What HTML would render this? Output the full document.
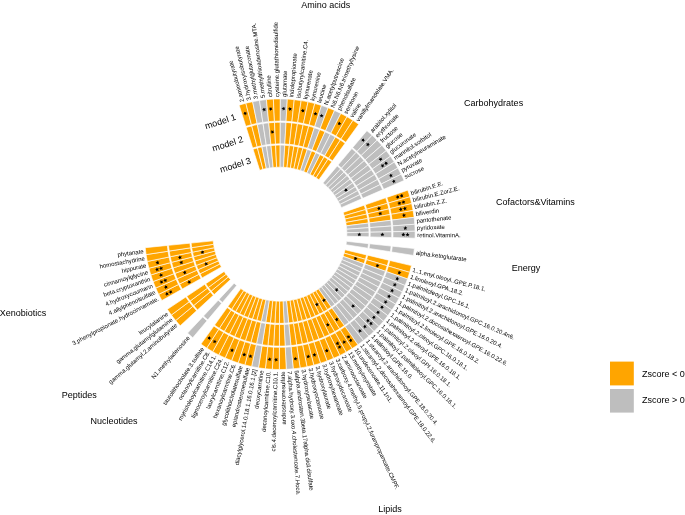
<!DOCTYPE html>
<html><head><meta charset="utf-8"><style>
html,body{margin:0;padding:0;background:#fff;}
svg{display:block;will-change:transform;}
text{font-family:"Liberation Sans",sans-serif;fill:#000;}
</style></head><body>
<svg width="685" height="515" viewBox="0 0 685 515">
<rect width="685" height="515" fill="#fff"/>
<g stroke="#fff" stroke-width="0.65">
<path d="M239.142,105.169A135.3,135.3 0 0 1 245.846,103.243L251.425,124.730A113.1,113.1 0 0 0 245.821,126.341Z" fill="#FFA500"/>
<path d="M246.182,127.485A111.9,111.9 0 0 1 251.727,125.892L257.143,146.750A90.35,90.35 0 0 0 252.666,148.036Z" fill="#FFA500"/>
<path d="M253.027,149.181A89.15,89.15 0 0 1 257.444,147.911L263.011,169.351A67.0,67.0 0 0 0 259.692,170.304Z" fill="#FFA500"/>
<path d="M245.846,103.243A135.3,135.3 0 0 1 252.640,101.664L257.104,123.411A113.1,113.1 0 0 0 251.425,124.730Z" fill="#FFA500"/>
<path d="M251.727,125.892A111.9,111.9 0 0 1 257.346,124.586L261.680,145.696A90.35,90.35 0 0 0 257.143,146.750Z" fill="#FFA500"/>
<path d="M257.444,147.911A89.15,89.15 0 0 1 261.921,146.871L266.375,168.569A67.0,67.0 0 0 0 263.011,169.351Z" fill="#FFA500"/>
<path d="M252.640,101.664A135.3,135.3 0 0 1 259.506,100.438L262.844,122.386A113.1,113.1 0 0 0 257.104,123.411Z" fill="#BEBEBE"/>
<path d="M257.346,124.586A111.9,111.9 0 0 1 263.024,123.572L266.265,144.877A90.35,90.35 0 0 0 261.680,145.696Z" fill="#BEBEBE"/>
<path d="M261.921,146.871A89.15,89.15 0 0 1 266.445,146.064L269.776,167.962A67.0,67.0 0 0 0 266.375,168.569Z" fill="#BEBEBE"/>
<path d="M259.506,100.438A135.3,135.3 0 0 1 266.426,99.568L268.629,121.658A113.1,113.1 0 0 0 262.844,122.386Z" fill="#BEBEBE"/>
<path d="M263.024,123.572A111.9,111.9 0 0 1 268.748,122.852L270.886,144.296A90.35,90.35 0 0 0 266.265,144.877Z" fill="#BEBEBE"/>
<path d="M266.445,146.064A89.15,89.15 0 0 1 271.005,145.490L273.203,167.531A67.0,67.0 0 0 0 269.776,167.962Z" fill="#BEBEBE"/>
<path d="M266.426,99.568A135.3,135.3 0 0 1 273.382,99.055L274.443,121.229A113.1,113.1 0 0 0 268.629,121.658Z" fill="#FFA500"/>
<path d="M268.748,122.852A111.9,111.9 0 0 1 274.501,122.428L275.531,143.953A90.35,90.35 0 0 0 270.886,144.296Z" fill="#FFA500"/>
<path d="M271.005,145.490A89.15,89.15 0 0 1 275.588,145.152L276.647,167.277A67.0,67.0 0 0 0 273.203,167.531Z" fill="#FFA500"/>
<path d="M273.382,99.055A135.3,135.3 0 0 1 280.355,98.901L280.272,121.101A113.1,113.1 0 0 0 274.443,121.229Z" fill="#FFA500"/>
<path d="M274.501,122.428A111.9,111.9 0 0 1 280.268,122.301L280.187,143.851A90.35,90.35 0 0 0 275.531,143.953Z" fill="#FFA500"/>
<path d="M275.588,145.152A89.15,89.15 0 0 1 280.183,145.051L280.100,167.200A67.0,67.0 0 0 0 276.647,167.277Z" fill="#FFA500"/>
<path d="M280.355,98.901A135.3,135.3 0 0 1 287.327,99.107L286.100,121.273A113.1,113.1 0 0 0 280.272,121.101Z" fill="#BEBEBE"/>
<path d="M280.268,122.301A111.9,111.9 0 0 1 286.034,122.471L284.843,143.988A90.35,90.35 0 0 0 280.187,143.851Z" fill="#BEBEBE"/>
<path d="M280.183,145.051A89.15,89.15 0 0 1 284.777,145.186L283.553,167.302A67.0,67.0 0 0 0 280.100,167.200Z" fill="#BEBEBE"/>
<path d="M287.327,99.107A135.3,135.3 0 0 1 294.279,99.672L291.912,121.745A113.1,113.1 0 0 0 286.100,121.273Z" fill="#FFA500"/>
<path d="M286.034,122.471A111.9,111.9 0 0 1 291.784,122.938L289.485,144.365A90.35,90.35 0 0 0 284.843,143.988Z" fill="#FFA500"/>
<path d="M284.777,145.186A89.15,89.15 0 0 1 289.357,145.558L286.995,167.582A67.0,67.0 0 0 0 283.553,167.302Z" fill="#FFA500"/>
<path d="M294.279,99.672A135.3,135.3 0 0 1 301.193,100.594L297.691,122.516A113.1,113.1 0 0 0 291.912,121.745Z" fill="#FFA500"/>
<path d="M291.784,122.938A111.9,111.9 0 0 1 297.502,123.701L294.102,144.981A90.35,90.35 0 0 0 289.485,144.365Z" fill="#FFA500"/>
<path d="M289.357,145.558A89.15,89.15 0 0 1 293.913,146.166L290.419,168.039A67.0,67.0 0 0 0 286.995,167.582Z" fill="#FFA500"/>
<path d="M301.193,100.594A135.3,135.3 0 0 1 308.050,101.871L303.423,123.584A113.1,113.1 0 0 0 297.691,122.516Z" fill="#FFA500"/>
<path d="M297.502,123.701A111.9,111.9 0 0 1 303.173,124.757L298.681,145.834A90.35,90.35 0 0 0 294.102,144.981Z" fill="#FFA500"/>
<path d="M293.913,146.166A89.15,89.15 0 0 1 298.431,147.008L293.814,168.671A67.0,67.0 0 0 0 290.419,168.039Z" fill="#FFA500"/>
<path d="M308.050,101.871A135.3,135.3 0 0 1 314.832,103.500L309.092,124.946A113.1,113.1 0 0 0 303.423,123.584Z" fill="#FFA500"/>
<path d="M303.173,124.757A111.9,111.9 0 0 1 308.782,126.105L303.210,146.922A90.35,90.35 0 0 0 298.681,145.834Z" fill="#FFA500"/>
<path d="M298.431,147.008A89.15,89.15 0 0 1 302.900,148.081L297.173,169.478A67.0,67.0 0 0 0 293.814,168.671Z" fill="#FFA500"/>
<path d="M314.832,103.500A135.3,135.3 0 0 1 321.521,105.477L314.683,126.598A113.1,113.1 0 0 0 309.092,124.946Z" fill="#FFA500"/>
<path d="M308.782,126.105A111.9,111.9 0 0 1 314.314,127.739L307.677,148.242A90.35,90.35 0 0 0 303.210,146.922Z" fill="#FFA500"/>
<path d="M302.900,148.081A89.15,89.15 0 0 1 307.307,149.384L300.485,170.457A67.0,67.0 0 0 0 297.173,169.478Z" fill="#FFA500"/>
<path d="M321.521,105.477A135.3,135.3 0 0 1 328.099,107.795L320.182,128.536A113.1,113.1 0 0 0 314.683,126.598Z" fill="#BEBEBE"/>
<path d="M314.314,127.739A111.9,111.9 0 0 1 319.754,129.657L312.069,149.790A90.35,90.35 0 0 0 307.677,148.242Z" fill="#BEBEBE"/>
<path d="M307.307,149.384A89.15,89.15 0 0 1 311.642,150.911L303.743,171.605A67.0,67.0 0 0 0 300.485,170.457Z" fill="#BEBEBE"/>
<path d="M328.099,107.795A135.3,135.3 0 0 1 334.549,110.450L325.574,130.755A113.1,113.1 0 0 0 320.182,128.536Z" fill="#FFA500"/>
<path d="M319.754,129.657A111.9,111.9 0 0 1 325.089,131.852L316.377,151.563A90.35,90.35 0 0 0 312.069,149.790Z" fill="#FFA500"/>
<path d="M311.642,150.911A89.15,89.15 0 0 1 315.892,152.660L306.937,172.919A67.0,67.0 0 0 0 303.743,171.605Z" fill="#FFA500"/>
<path d="M334.549,110.450A135.3,135.3 0 0 1 340.854,113.433L330.844,133.249A113.1,113.1 0 0 0 325.574,130.755Z" fill="#BEBEBE"/>
<path d="M325.089,131.852A111.9,111.9 0 0 1 330.303,134.320L320.587,153.555A90.35,90.35 0 0 0 316.377,151.563Z" fill="#BEBEBE"/>
<path d="M315.892,152.660A89.15,89.15 0 0 1 320.046,154.626L310.059,174.397A67.0,67.0 0 0 0 306.937,172.919Z" fill="#BEBEBE"/>
<path d="M340.854,113.433A135.3,135.3 0 0 1 346.996,116.737L335.979,136.011A113.1,113.1 0 0 0 330.844,133.249Z" fill="#FFA500"/>
<path d="M330.303,134.320A111.9,111.9 0 0 1 335.383,137.052L324.689,155.761A90.35,90.35 0 0 0 320.587,153.555Z" fill="#BEBEBE"/>
<path d="M320.046,154.626A89.15,89.15 0 0 1 324.093,156.803L313.101,176.033A67.0,67.0 0 0 0 310.059,174.397Z" fill="#FFA500"/>
<path d="M346.996,116.737A135.3,135.3 0 0 1 352.960,120.354L340.964,139.034A113.1,113.1 0 0 0 335.979,136.011Z" fill="#FFA500"/>
<path d="M335.383,137.052A111.9,111.9 0 0 1 340.316,140.043L328.671,158.176A90.35,90.35 0 0 0 324.689,155.761Z" fill="#FFA500"/>
<path d="M324.093,156.803A89.15,89.15 0 0 1 328.023,159.186L316.054,177.824A67.0,67.0 0 0 0 313.101,176.033Z" fill="#FFA500"/>
<path d="M352.960,120.354A135.3,135.3 0 0 1 358.730,124.273L345.788,142.310A113.1,113.1 0 0 0 340.964,139.034Z" fill="#FFA500"/>
<path d="M340.316,140.043A111.9,111.9 0 0 1 345.088,143.285L332.524,160.793A90.35,90.35 0 0 0 328.671,158.176Z" fill="#FFA500"/>
<path d="M328.023,159.186A89.15,89.15 0 0 1 331.825,161.768L318.911,179.764A67.0,67.0 0 0 0 316.054,177.824Z" fill="#FFA500"/>
<path d="M366.908,130.629A135.3,135.3 0 0 1 372.130,135.253L356.988,151.488A113.1,113.1 0 0 0 352.623,147.623Z" fill="#BEBEBE"/>
<path d="M351.851,148.541A111.9,111.9 0 0 1 356.170,152.366L341.472,168.125A90.35,90.35 0 0 0 337.985,165.038Z" fill="#BEBEBE"/>
<path d="M337.213,165.956A89.15,89.15 0 0 1 340.654,169.003L325.546,185.202A67.0,67.0 0 0 0 322.961,182.912Z" fill="#BEBEBE"/>
<path d="M372.130,135.253A135.3,135.3 0 0 1 377.106,140.140L361.148,155.573A113.1,113.1 0 0 0 356.988,151.488Z" fill="#BEBEBE"/>
<path d="M356.170,152.366A111.9,111.9 0 0 1 360.286,156.407L344.795,171.389A90.35,90.35 0 0 0 341.472,168.125Z" fill="#BEBEBE"/>
<path d="M340.654,169.003A89.15,89.15 0 0 1 343.933,172.223L328.011,187.622A67.0,67.0 0 0 0 325.546,185.202Z" fill="#BEBEBE"/>
<path d="M377.106,140.140A135.3,135.3 0 0 1 381.824,145.277L365.092,159.867A113.1,113.1 0 0 0 361.148,155.573Z" fill="#BEBEBE"/>
<path d="M360.286,156.407A111.9,111.9 0 0 1 364.188,160.656L347.946,174.819A90.35,90.35 0 0 0 344.795,171.389Z" fill="#BEBEBE"/>
<path d="M343.933,172.223A89.15,89.15 0 0 1 347.041,175.608L330.347,190.166A67.0,67.0 0 0 0 328.011,187.622Z" fill="#BEBEBE"/>
<path d="M381.824,145.277A135.3,135.3 0 0 1 386.271,150.650L368.810,164.359A113.1,113.1 0 0 0 365.092,159.867Z" fill="#BEBEBE"/>
<path d="M364.188,160.656A111.9,111.9 0 0 1 367.866,165.100L350.916,178.407A90.35,90.35 0 0 0 347.946,174.819Z" fill="#BEBEBE"/>
<path d="M347.041,175.608A89.15,89.15 0 0 1 349.972,179.148L332.549,192.826A67.0,67.0 0 0 0 330.347,190.166Z" fill="#BEBEBE"/>
<path d="M386.271,150.650A135.3,135.3 0 0 1 390.436,156.245L372.291,169.036A113.1,113.1 0 0 0 368.810,164.359Z" fill="#BEBEBE"/>
<path d="M367.866,165.100A111.9,111.9 0 0 1 371.310,169.728L353.696,182.144A90.35,90.35 0 0 0 350.916,178.407Z" fill="#BEBEBE"/>
<path d="M349.972,179.148A89.15,89.15 0 0 1 352.716,182.835L334.612,195.597A67.0,67.0 0 0 0 332.549,192.826Z" fill="#BEBEBE"/>
<path d="M390.436,156.245A135.3,135.3 0 0 1 394.306,162.048L375.526,173.887A113.1,113.1 0 0 0 372.291,169.036Z" fill="#BEBEBE"/>
<path d="M371.310,169.728A111.9,111.9 0 0 1 374.511,174.527L356.281,186.019A90.35,90.35 0 0 0 353.696,182.144Z" fill="#BEBEBE"/>
<path d="M352.716,182.835A89.15,89.15 0 0 1 355.266,186.659L336.528,198.471A67.0,67.0 0 0 0 334.612,195.597Z" fill="#BEBEBE"/>
<path d="M394.306,162.048A135.3,135.3 0 0 1 397.872,168.042L378.507,178.897A113.1,113.1 0 0 0 375.526,173.887Z" fill="#BEBEBE"/>
<path d="M374.511,174.527A111.9,111.9 0 0 1 377.460,179.484L358.662,190.021A90.35,90.35 0 0 0 356.281,186.019Z" fill="#BEBEBE"/>
<path d="M355.266,186.659A89.15,89.15 0 0 1 357.616,190.608L338.294,201.439A67.0,67.0 0 0 0 336.528,198.471Z" fill="#BEBEBE"/>
<path d="M397.872,168.042A135.3,135.3 0 0 1 401.125,174.212L381.226,184.055A113.1,113.1 0 0 0 378.507,178.897Z" fill="#BEBEBE"/>
<path d="M377.460,179.484A111.9,111.9 0 0 1 380.150,184.587L360.834,194.142A90.35,90.35 0 0 0 358.662,190.021Z" fill="#BEBEBE"/>
<path d="M357.616,190.608A89.15,89.15 0 0 1 359.759,194.674L339.905,204.494A67.0,67.0 0 0 0 338.294,201.439Z" fill="#BEBEBE"/>
<path d="M401.125,174.212A135.3,135.3 0 0 1 404.055,180.542L383.675,189.346A113.1,113.1 0 0 0 381.226,184.055Z" fill="#BEBEBE"/>
<path d="M380.150,184.587A111.9,111.9 0 0 1 382.574,189.822L362.791,198.368A90.35,90.35 0 0 0 360.834,194.142Z" fill="#BEBEBE"/>
<path d="M359.759,194.674A89.15,89.15 0 0 1 361.689,198.844L341.356,207.629A67.0,67.0 0 0 0 339.905,204.494Z" fill="#BEBEBE"/>
<path d="M407.796,190.200A135.3,135.3 0 0 1 409.893,196.852L388.556,202.980A113.1,113.1 0 0 0 386.802,197.419Z" fill="#FFA500"/>
<path d="M385.668,197.810A111.9,111.9 0 0 1 387.402,203.311L366.690,209.260A90.35,90.35 0 0 0 365.289,204.818Z" fill="#FFA500"/>
<path d="M364.154,205.208A89.15,89.15 0 0 1 365.536,209.591L344.247,215.705A67.0,67.0 0 0 0 343.208,212.411Z" fill="#FFA500"/>
<path d="M409.893,196.852A135.3,135.3 0 0 1 411.645,203.603L390.020,208.623A113.1,113.1 0 0 0 388.556,202.980Z" fill="#FFA500"/>
<path d="M387.402,203.311A111.9,111.9 0 0 1 388.851,208.895L367.859,213.768A90.35,90.35 0 0 0 366.690,209.260Z" fill="#FFA500"/>
<path d="M365.536,209.591A89.15,89.15 0 0 1 366.691,214.040L345.114,219.049A67.0,67.0 0 0 0 344.247,215.705Z" fill="#FFA500"/>
<path d="M411.645,203.603A135.3,135.3 0 0 1 413.047,210.436L391.192,214.335A113.1,113.1 0 0 0 390.020,208.623Z" fill="#FFA500"/>
<path d="M388.851,208.895A111.9,111.9 0 0 1 390.010,214.546L368.795,218.331A90.35,90.35 0 0 0 367.859,213.768Z" fill="#FFA500"/>
<path d="M366.691,214.040A89.15,89.15 0 0 1 367.614,218.542L345.808,222.432A67.0,67.0 0 0 0 345.114,219.049Z" fill="#FFA500"/>
<path d="M413.047,210.436A135.3,135.3 0 0 1 414.094,217.331L392.068,220.099A113.1,113.1 0 0 0 391.192,214.335Z" fill="#FFA500"/>
<path d="M390.010,214.546A111.9,111.9 0 0 1 390.877,220.249L369.495,222.936A90.35,90.35 0 0 0 368.795,218.331Z" fill="#FFA500"/>
<path d="M367.614,218.542A89.15,89.15 0 0 1 368.304,223.085L346.327,225.847A67.0,67.0 0 0 0 345.808,222.432Z" fill="#FFA500"/>
<path d="M414.094,217.331A135.3,135.3 0 0 1 414.785,224.272L392.645,225.901A113.1,113.1 0 0 0 392.068,220.099Z" fill="#BEBEBE"/>
<path d="M390.877,220.249A111.9,111.9 0 0 1 391.448,225.989L369.956,227.570A90.35,90.35 0 0 0 369.495,222.936Z" fill="#BEBEBE"/>
<path d="M368.304,223.085A89.15,89.15 0 0 1 368.760,227.658L346.669,229.284A67.0,67.0 0 0 0 346.327,225.847Z" fill="#BEBEBE"/>
<path d="M414.785,224.272A135.3,135.3 0 0 1 415.118,231.239L392.923,231.725A113.1,113.1 0 0 0 392.645,225.901Z" fill="#BEBEBE"/>
<path d="M391.448,225.989A111.9,111.9 0 0 1 391.723,231.751L370.178,232.223A90.35,90.35 0 0 0 369.956,227.570Z" fill="#BEBEBE"/>
<path d="M368.760,227.658A89.15,89.15 0 0 1 368.979,232.249L346.834,232.734A67.0,67.0 0 0 0 346.669,229.284Z" fill="#BEBEBE"/>
<path d="M415.118,231.239A135.3,135.3 0 0 1 415.090,238.214L392.900,237.555A113.1,113.1 0 0 0 392.923,231.725Z" fill="#BEBEBE"/>
<path d="M391.723,231.751A111.9,111.9 0 0 1 391.701,237.520L370.160,236.880A90.35,90.35 0 0 0 370.178,232.223Z" fill="#BEBEBE"/>
<path d="M368.979,232.249A89.15,89.15 0 0 1 368.961,236.845L346.821,236.188A67.0,67.0 0 0 0 346.834,232.734Z" fill="#BEBEBE"/>
<path d="M414.387,248.547A135.3,135.3 0 0 1 413.469,255.461L391.545,251.973A113.1,113.1 0 0 0 392.312,246.193Z" fill="#BEBEBE"/>
<path d="M391.119,246.066A111.9,111.9 0 0 1 390.360,251.784L369.078,248.398A90.35,90.35 0 0 0 369.691,243.781Z" fill="#BEBEBE"/>
<path d="M368.497,243.653A89.15,89.15 0 0 1 367.892,248.209L346.018,244.728A67.0,67.0 0 0 0 346.472,241.305Z" fill="#BEBEBE"/>
<path d="M411.451,265.620A135.3,135.3 0 0 1 409.657,272.360L388.358,266.099A113.1,113.1 0 0 0 389.858,260.464Z" fill="#FFA500"/>
<path d="M388.691,260.186A111.9,111.9 0 0 1 387.207,265.760L366.532,259.682A90.35,90.35 0 0 0 367.730,255.181Z" fill="#FFA500"/>
<path d="M366.563,254.903A89.15,89.15 0 0 1 365.381,259.344L344.130,253.097A67.0,67.0 0 0 0 345.018,249.759Z" fill="#FFA500"/>
<path d="M409.657,272.360A135.3,135.3 0 0 1 407.518,278.999L386.570,271.648A113.1,113.1 0 0 0 388.358,266.099Z" fill="#FFA500"/>
<path d="M387.207,265.760A111.9,111.9 0 0 1 385.438,271.251L365.104,264.116A90.35,90.35 0 0 0 366.532,259.682Z" fill="#FFA500"/>
<path d="M365.381,259.344A89.15,89.15 0 0 1 363.971,263.718L343.071,256.384A67.0,67.0 0 0 0 344.130,253.097Z" fill="#FFA500"/>
<path d="M407.518,278.999A135.3,135.3 0 0 1 405.040,285.519L384.499,277.098A113.1,113.1 0 0 0 386.570,271.648Z" fill="#BEBEBE"/>
<path d="M385.438,271.251A111.9,111.9 0 0 1 383.388,276.643L363.449,268.469A90.35,90.35 0 0 0 365.104,264.116Z" fill="#BEBEBE"/>
<path d="M363.971,263.718A89.15,89.15 0 0 1 362.338,268.014L341.843,259.613A67.0,67.0 0 0 0 343.071,256.384Z" fill="#BEBEBE"/>
<path d="M405.040,285.519A135.3,135.3 0 0 1 402.229,291.902L382.149,282.434A113.1,113.1 0 0 0 384.499,277.098Z" fill="#BEBEBE"/>
<path d="M383.388,276.643A111.9,111.9 0 0 1 381.064,281.922L361.572,272.732A90.35,90.35 0 0 0 363.449,268.469Z" fill="#BEBEBE"/>
<path d="M362.338,268.014A89.15,89.15 0 0 1 360.486,272.220L340.451,262.774A67.0,67.0 0 0 0 341.843,259.613Z" fill="#BEBEBE"/>
<path d="M402.229,291.902A135.3,135.3 0 0 1 399.093,298.132L379.527,287.642A113.1,113.1 0 0 0 382.149,282.434Z" fill="#BEBEBE"/>
<path d="M381.064,281.922A111.9,111.9 0 0 1 378.470,287.075L359.477,276.892A90.35,90.35 0 0 0 361.572,272.732Z" fill="#BEBEBE"/>
<path d="M360.486,272.220A89.15,89.15 0 0 1 358.420,276.325L338.898,265.859A67.0,67.0 0 0 0 340.451,262.774Z" fill="#BEBEBE"/>
<path d="M399.093,298.132A135.3,135.3 0 0 1 395.639,304.192L376.641,292.708A113.1,113.1 0 0 0 379.527,287.642Z" fill="#BEBEBE"/>
<path d="M378.470,287.075A111.9,111.9 0 0 1 375.614,292.087L357.171,280.939A90.35,90.35 0 0 0 359.477,276.892Z" fill="#BEBEBE"/>
<path d="M358.420,276.325A89.15,89.15 0 0 1 356.144,280.318L337.188,268.860A67.0,67.0 0 0 0 338.898,265.859Z" fill="#BEBEBE"/>
<path d="M395.639,304.192A135.3,135.3 0 0 1 391.879,310.066L373.497,297.618A113.1,113.1 0 0 0 376.641,292.708Z" fill="#BEBEBE"/>
<path d="M375.614,292.087A111.9,111.9 0 0 1 372.503,296.945L354.660,284.862A90.35,90.35 0 0 0 357.171,280.939Z" fill="#BEBEBE"/>
<path d="M356.144,280.318A89.15,89.15 0 0 1 353.666,284.189L335.326,271.769A67.0,67.0 0 0 0 337.188,268.860Z" fill="#BEBEBE"/>
<path d="M391.879,310.066A135.3,135.3 0 0 1 387.820,315.739L370.104,302.360A113.1,113.1 0 0 0 373.497,297.618Z" fill="#BEBEBE"/>
<path d="M372.503,296.945A111.9,111.9 0 0 1 369.147,301.637L351.950,288.650A90.35,90.35 0 0 0 354.660,284.862Z" fill="#BEBEBE"/>
<path d="M353.666,284.189A89.15,89.15 0 0 1 350.992,287.926L333.316,274.578A67.0,67.0 0 0 0 335.326,271.769Z" fill="#BEBEBE"/>
<path d="M387.820,315.739A135.3,135.3 0 0 1 383.475,321.194L366.472,306.920A113.1,113.1 0 0 0 370.104,302.360Z" fill="#BEBEBE"/>
<path d="M369.147,301.637A111.9,111.9 0 0 1 365.553,306.149L349.048,292.293A90.35,90.35 0 0 0 351.950,288.650Z" fill="#BEBEBE"/>
<path d="M350.992,287.926A89.15,89.15 0 0 1 348.129,291.521L331.164,277.279A67.0,67.0 0 0 0 333.316,274.578Z" fill="#BEBEBE"/>
<path d="M383.475,321.194A135.3,135.3 0 0 1 378.854,326.419L362.609,311.288A113.1,113.1 0 0 0 366.472,306.920Z" fill="#BEBEBE"/>
<path d="M365.553,306.149A111.9,111.9 0 0 1 361.731,310.470L345.962,295.782A90.35,90.35 0 0 0 349.048,292.293Z" fill="#BEBEBE"/>
<path d="M348.129,291.521A89.15,89.15 0 0 1 345.084,294.964L328.876,279.867A67.0,67.0 0 0 0 331.164,277.279Z" fill="#BEBEBE"/>
<path d="M378.854,326.419A135.3,135.3 0 0 1 373.970,331.399L358.527,315.450A113.1,113.1 0 0 0 362.609,311.288Z" fill="#BEBEBE"/>
<path d="M361.731,310.470A111.9,111.9 0 0 1 357.692,314.588L342.701,299.107A90.35,90.35 0 0 0 345.962,295.782Z" fill="#BEBEBE"/>
<path d="M345.084,294.964A89.15,89.15 0 0 1 341.866,298.245L326.458,282.332A67.0,67.0 0 0 0 328.876,279.867Z" fill="#BEBEBE"/>
<path d="M373.970,331.399A135.3,135.3 0 0 1 368.836,336.120L354.235,319.397A113.1,113.1 0 0 0 358.527,315.450Z" fill="#BEBEBE"/>
<path d="M357.692,314.588A111.9,111.9 0 0 1 353.446,318.493L339.272,302.260A90.35,90.35 0 0 0 342.701,299.107Z" fill="#BEBEBE"/>
<path d="M341.866,298.245A89.15,89.15 0 0 1 338.483,301.356L323.915,284.670A67.0,67.0 0 0 0 326.458,282.332Z" fill="#BEBEBE"/>
<path d="M368.836,336.120A135.3,135.3 0 0 1 363.465,340.570L349.745,323.117A113.1,113.1 0 0 0 354.235,319.397Z" fill="#BEBEBE"/>
<path d="M353.446,318.493A111.9,111.9 0 0 1 349.004,322.174L335.686,305.231A90.35,90.35 0 0 0 339.272,302.260Z" fill="#BEBEBE"/>
<path d="M338.483,301.356A89.15,89.15 0 0 1 334.944,304.288L321.256,286.874A67.0,67.0 0 0 0 323.915,284.670Z" fill="#BEBEBE"/>
<path d="M363.465,340.570A135.3,135.3 0 0 1 357.872,344.738L345.070,326.601A113.1,113.1 0 0 0 349.745,323.117Z" fill="#BEBEBE"/>
<path d="M349.004,322.174A111.9,111.9 0 0 1 344.378,325.620L331.951,308.014A90.35,90.35 0 0 0 335.686,305.231Z" fill="#BEBEBE"/>
<path d="M334.944,304.288A89.15,89.15 0 0 1 331.259,307.034L318.486,288.938A67.0,67.0 0 0 0 321.256,286.874Z" fill="#BEBEBE"/>
<path d="M357.872,344.738A135.3,135.3 0 0 1 352.072,348.612L340.222,329.839A113.1,113.1 0 0 0 345.070,326.601Z" fill="#FFA500"/>
<path d="M344.378,325.620A111.9,111.9 0 0 1 339.581,328.824L328.078,310.601A90.35,90.35 0 0 0 331.951,308.014Z" fill="#FFA500"/>
<path d="M331.259,307.034A89.15,89.15 0 0 1 327.438,309.587L315.614,290.856A67.0,67.0 0 0 0 318.486,288.938Z" fill="#FFA500"/>
<path d="M352.072,348.612A135.3,135.3 0 0 1 346.080,352.182L335.213,332.823A113.1,113.1 0 0 0 340.222,329.839Z" fill="#FFA500"/>
<path d="M339.581,328.824A111.9,111.9 0 0 1 334.626,331.777L324.077,312.985A90.35,90.35 0 0 0 328.078,310.601Z" fill="#FFA500"/>
<path d="M327.438,309.587A89.15,89.15 0 0 1 323.489,311.939L312.647,292.624A67.0,67.0 0 0 0 315.614,290.856Z" fill="#FFA500"/>
<path d="M346.080,352.182A135.3,135.3 0 0 1 339.912,355.438L330.057,335.545A113.1,113.1 0 0 0 335.213,332.823Z" fill="#FFA500"/>
<path d="M334.626,331.777A111.9,111.9 0 0 1 329.524,334.470L319.958,315.160A90.35,90.35 0 0 0 324.077,312.985Z" fill="#FFA500"/>
<path d="M323.489,311.939A89.15,89.15 0 0 1 319.425,314.085L309.592,294.237A67.0,67.0 0 0 0 312.647,292.624Z" fill="#FFA500"/>
<path d="M339.912,355.438A135.3,135.3 0 0 1 333.584,358.372L324.767,337.998A113.1,113.1 0 0 0 330.057,335.545Z" fill="#FFA500"/>
<path d="M329.524,334.470A111.9,111.9 0 0 1 324.291,336.897L315.732,317.119A90.35,90.35 0 0 0 319.958,315.160Z" fill="#FFA500"/>
<path d="M319.425,314.085A89.15,89.15 0 0 1 315.256,316.018L306.459,295.690A67.0,67.0 0 0 0 309.592,294.237Z" fill="#FFA500"/>
<path d="M333.584,358.372A135.3,135.3 0 0 1 327.114,360.976L319.359,340.175A113.1,113.1 0 0 0 324.767,337.998Z" fill="#FFA500"/>
<path d="M324.291,336.897A111.9,111.9 0 0 1 318.939,339.051L311.411,318.858A90.35,90.35 0 0 0 315.732,317.119Z" fill="#FFA500"/>
<path d="M315.256,316.018A89.15,89.15 0 0 1 310.992,317.734L303.255,296.979A67.0,67.0 0 0 0 306.459,295.690Z" fill="#FFA500"/>
<path d="M327.114,360.976A135.3,135.3 0 0 1 320.517,363.244L313.845,342.070A113.1,113.1 0 0 0 319.359,340.175Z" fill="#FFA500"/>
<path d="M318.939,339.051A111.9,111.9 0 0 1 313.484,340.926L307.007,320.372A90.35,90.35 0 0 0 311.411,318.858Z" fill="#FFA500"/>
<path d="M310.992,317.734A89.15,89.15 0 0 1 306.646,319.228L299.988,298.102A67.0,67.0 0 0 0 303.255,296.979Z" fill="#FFA500"/>
<path d="M320.517,363.244A135.3,135.3 0 0 1 313.813,365.168L308.241,343.679A113.1,113.1 0 0 0 313.845,342.070Z" fill="#FFA500"/>
<path d="M313.484,340.926A111.9,111.9 0 0 1 307.939,342.517L302.530,321.657A90.35,90.35 0 0 0 307.007,320.372Z" fill="#FFA500"/>
<path d="M306.646,319.228A89.15,89.15 0 0 1 302.229,320.496L296.668,299.055A67.0,67.0 0 0 0 299.988,298.102Z" fill="#FFA500"/>
<path d="M313.813,365.168A135.3,135.3 0 0 1 307.019,366.744L302.561,344.996A113.1,113.1 0 0 0 308.241,343.679Z" fill="#FFA500"/>
<path d="M307.939,342.517A111.9,111.9 0 0 1 302.320,343.821L297.993,322.710A90.35,90.35 0 0 0 302.530,321.657Z" fill="#FFA500"/>
<path d="M302.229,320.496A89.15,89.15 0 0 1 297.752,321.534L293.304,299.835A67.0,67.0 0 0 0 296.668,299.055Z" fill="#FFA500"/>
<path d="M307.019,366.744A135.3,135.3 0 0 1 300.152,367.968L296.821,346.019A113.1,113.1 0 0 0 302.561,344.996Z" fill="#FFA500"/>
<path d="M302.320,343.821A111.9,111.9 0 0 1 296.641,344.833L293.407,323.527A90.35,90.35 0 0 0 297.993,322.710Z" fill="#FFA500"/>
<path d="M297.752,321.534A89.15,89.15 0 0 1 293.227,322.341L289.904,300.441A67.0,67.0 0 0 0 293.304,299.835Z" fill="#FFA500"/>
<path d="M300.152,367.968A135.3,135.3 0 0 1 293.232,368.837L291.036,346.745A113.1,113.1 0 0 0 296.821,346.019Z" fill="#FFA500"/>
<path d="M296.641,344.833A111.9,111.9 0 0 1 290.917,345.551L288.786,324.107A90.35,90.35 0 0 0 293.407,323.527Z" fill="#FFA500"/>
<path d="M293.227,322.341A89.15,89.15 0 0 1 288.667,322.913L286.476,300.872A67.0,67.0 0 0 0 289.904,300.441Z" fill="#FFA500"/>
<path d="M293.232,368.837A135.3,135.3 0 0 1 286.275,369.347L285.221,347.172A113.1,113.1 0 0 0 291.036,346.745Z" fill="#BEBEBE"/>
<path d="M290.917,345.551A111.9,111.9 0 0 1 285.164,345.974L284.141,324.448A90.35,90.35 0 0 0 288.786,324.107Z" fill="#BEBEBE"/>
<path d="M288.667,322.913A89.15,89.15 0 0 1 284.084,323.249L283.032,301.124A67.0,67.0 0 0 0 286.476,300.872Z" fill="#BEBEBE"/>
<path d="M286.275,369.347A135.3,135.3 0 0 1 279.302,369.499L279.392,347.299A113.1,113.1 0 0 0 285.221,347.172Z" fill="#FFA500"/>
<path d="M285.164,345.974A111.9,111.9 0 0 1 279.397,346.099L279.484,324.549A90.35,90.35 0 0 0 284.141,324.448Z" fill="#FFA500"/>
<path d="M284.084,323.249A89.15,89.15 0 0 1 279.489,323.349L279.579,301.199A67.0,67.0 0 0 0 283.032,301.124Z" fill="#FFA500"/>
<path d="M279.302,369.499A135.3,135.3 0 0 1 272.330,369.291L273.564,347.125A113.1,113.1 0 0 0 279.392,347.299Z" fill="#FFA500"/>
<path d="M279.397,346.099A111.9,111.9 0 0 1 273.631,345.927L274.829,324.410A90.35,90.35 0 0 0 279.484,324.549Z" fill="#FFA500"/>
<path d="M279.489,323.349A89.15,89.15 0 0 1 274.895,323.212L276.126,301.096A67.0,67.0 0 0 0 279.579,301.199Z" fill="#FFA500"/>
<path d="M272.330,369.291A135.3,135.3 0 0 1 265.379,368.724L267.753,346.651A113.1,113.1 0 0 0 273.564,347.125Z" fill="#FFA500"/>
<path d="M273.631,345.927A111.9,111.9 0 0 1 267.881,345.458L270.186,324.032A90.35,90.35 0 0 0 274.829,324.410Z" fill="#FFA500"/>
<path d="M274.895,323.212A89.15,89.15 0 0 1 270.315,322.839L272.684,300.816A67.0,67.0 0 0 0 276.126,301.096Z" fill="#FFA500"/>
<path d="M265.379,368.724A135.3,135.3 0 0 1 258.465,367.799L261.974,345.878A113.1,113.1 0 0 0 267.753,346.651Z" fill="#FFA500"/>
<path d="M267.881,345.458A111.9,111.9 0 0 1 262.164,344.693L265.570,323.414A90.35,90.35 0 0 0 270.186,324.032Z" fill="#FFA500"/>
<path d="M270.315,322.839A89.15,89.15 0 0 1 265.759,322.229L269.260,300.358A67.0,67.0 0 0 0 272.684,300.816Z" fill="#FFA500"/>
<path d="M258.465,367.799A135.3,135.3 0 0 1 251.609,366.520L256.243,344.809A113.1,113.1 0 0 0 261.974,345.878Z" fill="#BEBEBE"/>
<path d="M262.164,344.693A111.9,111.9 0 0 1 256.493,343.635L260.991,322.560A90.35,90.35 0 0 0 265.570,323.414Z" fill="#BEBEBE"/>
<path d="M265.759,322.229A89.15,89.15 0 0 1 261.242,321.386L265.865,299.724A67.0,67.0 0 0 0 269.260,300.358Z" fill="#BEBEBE"/>
<path d="M251.609,366.520A135.3,135.3 0 0 1 244.827,364.889L250.574,343.445A113.1,113.1 0 0 0 256.243,344.809Z" fill="#FFA500"/>
<path d="M256.493,343.635A111.9,111.9 0 0 1 250.884,342.286L256.463,321.471A90.35,90.35 0 0 0 260.991,322.560Z" fill="#FFA500"/>
<path d="M261.242,321.386A89.15,89.15 0 0 1 256.773,320.311L262.507,298.916A67.0,67.0 0 0 0 265.865,299.724Z" fill="#FFA500"/>
<path d="M244.827,364.889A135.3,135.3 0 0 1 238.139,362.910L244.983,341.791A113.1,113.1 0 0 0 250.574,343.445Z" fill="#FFA500"/>
<path d="M250.884,342.286A111.9,111.9 0 0 1 245.353,340.650L251.996,320.149A90.35,90.35 0 0 0 256.463,321.471Z" fill="#FFA500"/>
<path d="M256.773,320.311A89.15,89.15 0 0 1 252.366,319.008L259.195,297.937A67.0,67.0 0 0 0 262.507,298.916Z" fill="#FFA500"/>
<path d="M238.139,362.910A135.3,135.3 0 0 1 231.561,360.589L239.484,339.851A113.1,113.1 0 0 0 244.983,341.791Z" fill="#FFA500"/>
<path d="M245.353,340.650A111.9,111.9 0 0 1 239.913,338.731L247.604,318.600A90.35,90.35 0 0 0 251.996,320.149Z" fill="#FFA500"/>
<path d="M252.366,319.008A89.15,89.15 0 0 1 248.032,317.479L255.938,296.788A67.0,67.0 0 0 0 259.195,297.937Z" fill="#FFA500"/>
<path d="M231.561,360.589A135.3,135.3 0 0 1 225.112,357.933L234.093,337.631A113.1,113.1 0 0 0 239.484,339.851Z" fill="#FFA500"/>
<path d="M239.913,338.731A111.9,111.9 0 0 1 234.579,336.533L243.297,316.826A90.35,90.35 0 0 0 247.604,318.600Z" fill="#FFA500"/>
<path d="M248.032,317.479A89.15,89.15 0 0 1 243.783,315.728L252.744,295.472A67.0,67.0 0 0 0 255.938,296.788Z" fill="#FFA500"/>
<path d="M225.112,357.933A135.3,135.3 0 0 1 218.808,354.948L228.824,335.135A113.1,113.1 0 0 0 234.093,337.631Z" fill="#FFA500"/>
<path d="M234.579,336.533A111.9,111.9 0 0 1 229.365,334.064L239.088,314.832A90.35,90.35 0 0 0 243.297,316.826Z" fill="#FFA500"/>
<path d="M243.783,315.728A89.15,89.15 0 0 1 239.629,313.761L249.622,293.994A67.0,67.0 0 0 0 252.744,295.472Z" fill="#FFA500"/>
<path d="M218.808,354.948A135.3,135.3 0 0 1 212.667,351.642L223.690,332.372A113.1,113.1 0 0 0 228.824,335.135Z" fill="#FFA500"/>
<path d="M229.365,334.064A111.9,111.9 0 0 1 224.286,331.330L234.987,312.625A90.35,90.35 0 0 0 239.088,314.832Z" fill="#FFA500"/>
<path d="M239.629,313.761A89.15,89.15 0 0 1 235.583,311.583L246.581,292.357A67.0,67.0 0 0 0 249.622,293.994Z" fill="#FFA500"/>
<path d="M212.667,351.642A135.3,135.3 0 0 1 206.704,348.023L218.706,329.347A113.1,113.1 0 0 0 223.690,332.372Z" fill="#FFA500"/>
<path d="M224.286,331.330A111.9,111.9 0 0 1 219.354,328.338L231.005,310.208A90.35,90.35 0 0 0 234.987,312.625Z" fill="#FFA500"/>
<path d="M235.583,311.583A89.15,89.15 0 0 1 231.654,309.199L243.628,290.565A67.0,67.0 0 0 0 246.581,292.357Z" fill="#FFA500"/>
<path d="M206.704,348.023A135.3,135.3 0 0 1 200.935,344.102L213.884,326.070A113.1,113.1 0 0 0 218.706,329.347Z" fill="#FFA500"/>
<path d="M219.354,328.338A111.9,111.9 0 0 1 214.583,325.095L227.153,307.590A90.35,90.35 0 0 0 231.005,310.208Z" fill="#FFA500"/>
<path d="M231.654,309.199A89.15,89.15 0 0 1 227.853,306.615L240.772,288.623A67.0,67.0 0 0 0 243.628,290.565Z" fill="#FFA500"/>
<path d="M192.760,337.744A135.3,135.3 0 0 1 187.539,333.118L202.686,316.888A113.1,113.1 0 0 0 207.049,320.755Z" fill="#BEBEBE"/>
<path d="M207.822,319.836A111.9,111.9 0 0 1 203.504,316.011L218.207,300.255A90.35,90.35 0 0 0 221.693,303.344Z" fill="#BEBEBE"/>
<path d="M222.466,302.426A89.15,89.15 0 0 1 219.026,299.378L234.138,283.184A67.0,67.0 0 0 0 236.723,285.475Z" fill="#BEBEBE"/>
<path d="M180.243,325.767A135.3,135.3 0 0 1 175.657,320.513L192.753,306.350A113.1,113.1 0 0 0 196.587,310.743Z" fill="#FFA500"/>
<path d="M197.470,309.931A111.9,111.9 0 0 1 193.677,305.585L210.272,291.837A90.35,90.35 0 0 0 213.335,295.346Z" fill="#FFA500"/>
<path d="M214.219,294.534A89.15,89.15 0 0 1 211.196,291.072L228.254,276.942A67.0,67.0 0 0 0 230.525,279.544Z" fill="#FFA500"/>
<path d="M175.657,320.513A135.3,135.3 0 0 1 171.347,315.028L189.150,301.766A113.1,113.1 0 0 0 192.753,306.350Z" fill="#FFA500"/>
<path d="M193.677,305.585A111.9,111.9 0 0 1 190.113,301.049L207.394,288.175A90.35,90.35 0 0 0 210.272,291.837Z" fill="#FFA500"/>
<path d="M211.196,291.072A89.15,89.15 0 0 1 208.357,287.458L226.120,274.226A67.0,67.0 0 0 0 228.254,276.942Z" fill="#FFA500"/>
<path d="M171.347,315.028A135.3,135.3 0 0 1 167.326,309.329L185.789,297.002A113.1,113.1 0 0 0 189.150,301.766Z" fill="#FFA500"/>
<path d="M190.113,301.049A111.9,111.9 0 0 1 186.787,296.336L204.709,284.370A90.35,90.35 0 0 0 207.394,288.175Z" fill="#FFA500"/>
<path d="M208.357,287.458A89.15,89.15 0 0 1 205.707,283.703L224.129,271.404A67.0,67.0 0 0 0 226.120,274.226Z" fill="#FFA500"/>
<path d="M161.909,300.502A135.3,135.3 0 0 1 158.649,294.336L178.535,284.469A113.1,113.1 0 0 0 181.261,289.623Z" fill="#FFA500"/>
<path d="M182.307,289.035A111.9,111.9 0 0 1 179.610,283.935L198.915,274.357A90.35,90.35 0 0 0 201.092,278.475Z" fill="#FFA500"/>
<path d="M202.138,277.887A89.15,89.15 0 0 1 199.990,273.824L219.832,263.979A67.0,67.0 0 0 0 221.446,267.032Z" fill="#FFA500"/>
<path d="M158.649,294.336A135.3,135.3 0 0 1 155.711,288.010L176.079,279.181A113.1,113.1 0 0 0 178.535,284.469Z" fill="#FFA500"/>
<path d="M179.610,283.935A111.9,111.9 0 0 1 177.180,278.704L196.953,270.133A90.35,90.35 0 0 0 198.915,274.357Z" fill="#FFA500"/>
<path d="M199.990,273.824A89.15,89.15 0 0 1 198.054,269.656L218.377,260.846A67.0,67.0 0 0 0 219.832,263.979Z" fill="#FFA500"/>
<path d="M155.711,288.010A135.3,135.3 0 0 1 153.103,281.541L173.899,273.773A113.1,113.1 0 0 0 176.079,279.181Z" fill="#FFA500"/>
<path d="M177.180,278.704A111.9,111.9 0 0 1 175.023,273.353L195.211,265.813A90.35,90.35 0 0 0 196.953,270.133Z" fill="#FFA500"/>
<path d="M198.054,269.656A89.15,89.15 0 0 1 196.335,265.393L217.085,257.643A67.0,67.0 0 0 0 218.377,260.846Z" fill="#FFA500"/>
<path d="M153.103,281.541A135.3,135.3 0 0 1 150.831,274.946L172.001,268.261A113.1,113.1 0 0 0 173.899,273.773Z" fill="#FFA500"/>
<path d="M175.023,273.353A111.9,111.9 0 0 1 173.145,267.899L193.694,261.409A90.35,90.35 0 0 0 195.211,265.813Z" fill="#FFA500"/>
<path d="M196.335,265.393A89.15,89.15 0 0 1 194.839,261.048L215.960,254.377A67.0,67.0 0 0 0 217.085,257.643Z" fill="#FFA500"/>
<path d="M150.831,274.946A135.3,135.3 0 0 1 148.903,268.243L170.389,262.657A113.1,113.1 0 0 0 172.001,268.261Z" fill="#FFA500"/>
<path d="M173.145,267.899A111.9,111.9 0 0 1 171.550,262.356L192.407,256.933A90.35,90.35 0 0 0 193.694,261.409Z" fill="#FFA500"/>
<path d="M194.839,261.048A89.15,89.15 0 0 1 193.568,256.631L215.006,251.058A67.0,67.0 0 0 0 215.960,254.377Z" fill="#FFA500"/>
<path d="M148.903,268.243A135.3,135.3 0 0 1 147.322,261.450L169.068,256.979A113.1,113.1 0 0 0 170.389,262.657Z" fill="#FFA500"/>
<path d="M171.550,262.356A111.9,111.9 0 0 1 170.243,256.737L191.351,252.397A90.35,90.35 0 0 0 192.407,256.933Z" fill="#FFA500"/>
<path d="M193.568,256.631A89.15,89.15 0 0 1 192.527,252.155L214.223,247.694A67.0,67.0 0 0 0 215.006,251.058Z" fill="#FFA500"/>
<path d="M147.322,261.450A135.3,135.3 0 0 1 146.094,254.584L168.041,251.239A113.1,113.1 0 0 0 169.068,256.979Z" fill="#FFA500"/>
<path d="M170.243,256.737A111.9,111.9 0 0 1 169.227,251.059L190.531,247.812A90.35,90.35 0 0 0 191.351,252.397Z" fill="#FFA500"/>
<path d="M192.527,252.155A89.15,89.15 0 0 1 191.718,247.631L213.615,244.294A67.0,67.0 0 0 0 214.223,247.694Z" fill="#FFA500"/>
<path d="M146.094,254.584A135.3,135.3 0 0 1 145.222,247.664L167.311,245.455A113.1,113.1 0 0 0 168.041,251.239Z" fill="#FFA500"/>
<path d="M169.227,251.059A111.9,111.9 0 0 1 168.505,245.335L189.948,243.191A90.35,90.35 0 0 0 190.531,247.812Z" fill="#FFA500"/>
<path d="M191.718,247.631A89.15,89.15 0 0 1 191.142,243.071L213.183,240.867A67.0,67.0 0 0 0 213.615,244.294Z" fill="#FFA500"/>
</g>
<g fill="#000"><path d="M243.14,114.07 L244.21,113.14 L243.99,111.75 L245.20,112.48 L246.45,111.83 L246.13,113.21 L247.13,114.20 L245.72,114.32 L245.09,115.58 L244.54,114.28Z"/><path d="M262.09,109.84 L263.29,109.10 L263.28,107.68 L264.36,108.59 L265.70,108.15 L265.17,109.46 L266.01,110.60 L264.60,110.49 L263.78,111.65 L263.44,110.27Z"/><path d="M268.52,109.09 L269.76,108.41 L269.82,107.00 L270.85,107.96 L272.22,107.58 L271.62,108.87 L272.40,110.05 L271.00,109.87 L270.11,110.98 L269.84,109.59Z"/><path d="M270.22,132.11 L271.45,131.42 L271.52,130.01 L272.55,130.97 L273.91,130.60 L273.32,131.88 L274.10,133.06 L272.69,132.89 L271.81,133.99 L271.54,132.60Z"/><path d="M281.46,108.59 L282.76,108.04 L282.97,106.64 L283.90,107.71 L285.29,107.47 L284.56,108.68 L285.22,109.94 L283.84,109.62 L282.85,110.63 L282.72,109.22Z"/><path d="M287.93,108.84 L289.26,108.36 L289.54,106.97 L290.41,108.08 L291.81,107.92 L291.03,109.09 L291.61,110.38 L290.25,109.99 L289.21,110.95 L289.16,109.54Z"/><path d="M300.79,110.34 L302.16,109.99 L302.58,108.64 L303.33,109.84 L304.75,109.82 L303.84,110.91 L304.30,112.25 L302.98,111.72 L301.85,112.57 L301.94,111.16Z"/><path d="M313.43,113.15 L314.83,112.95 L315.38,111.65 L316.01,112.92 L317.42,113.05 L316.41,114.03 L316.72,115.41 L315.47,114.76 L314.25,115.48 L314.49,114.09Z"/><path d="M319.62,115.04 L321.03,114.91 L321.65,113.64 L322.21,114.94 L323.61,115.14 L322.55,116.08 L322.79,117.47 L321.58,116.75 L320.32,117.41 L320.63,116.03Z"/><path d="M337.50,122.59 L338.91,122.68 L339.73,121.52 L340.08,122.89 L341.43,123.31 L340.24,124.07 L340.26,125.48 L339.17,124.58 L337.83,125.04 L338.35,123.72Z"/><path d="M361.55,138.78 L362.90,139.18 L363.96,138.24 L363.99,139.66 L365.21,140.37 L363.87,140.84 L363.57,142.22 L362.72,141.09 L361.31,141.23 L362.11,140.07Z"/><path d="M366.35,143.11 L367.69,143.59 L368.79,142.71 L368.75,144.12 L369.93,144.89 L368.57,145.29 L368.20,146.66 L367.40,145.49 L365.99,145.56 L366.86,144.44Z"/><path d="M379.35,157.53 L380.60,158.20 L381.82,157.50 L381.56,158.89 L382.61,159.84 L381.21,160.02 L380.63,161.31 L380.02,160.03 L378.62,159.88 L379.65,158.91Z"/><path d="M381.43,163.92 L382.63,164.66 L383.89,164.02 L383.56,165.40 L384.56,166.40 L383.15,166.51 L382.51,167.77 L381.97,166.46 L380.57,166.24 L381.65,165.32Z"/><path d="M384.92,161.59 L386.13,162.33 L387.39,161.69 L387.06,163.07 L388.06,164.07 L386.64,164.18 L386.00,165.44 L385.46,164.13 L384.06,163.91 L385.14,162.99Z"/><path d="M344.80,188.35 L346.01,189.09 L347.27,188.45 L346.94,189.83 L347.94,190.83 L346.53,190.94 L345.88,192.20 L345.34,190.89 L343.94,190.67 L345.02,189.75Z"/><path d="M389.98,173.77 L391.10,174.63 L392.42,174.12 L391.95,175.46 L392.84,176.56 L391.43,176.52 L390.66,177.71 L390.25,176.35 L388.89,175.99 L390.05,175.18Z"/><path d="M392.95,179.53 L394.02,180.44 L395.37,180.01 L394.83,181.31 L395.66,182.46 L394.25,182.35 L393.42,183.49 L393.09,182.12 L391.74,181.68 L392.95,180.94Z"/><path d="M397.00,195.06 L397.95,196.10 L399.34,195.84 L398.64,197.07 L399.32,198.31 L397.94,198.02 L396.97,199.05 L396.81,197.65 L395.53,197.04 L396.82,196.46Z"/><path d="M401.01,193.79 L401.96,194.84 L403.35,194.58 L402.65,195.81 L403.33,197.05 L401.94,196.76 L400.97,197.79 L400.82,196.38 L399.54,195.78 L400.83,195.20Z"/><path d="M398.86,201.15 L399.76,202.24 L401.16,202.05 L400.40,203.24 L401.01,204.51 L399.64,204.16 L398.62,205.13 L398.54,203.72 L397.29,203.05 L398.61,202.54Z"/><path d="M402.93,200.09 L403.82,201.19 L405.23,201.00 L404.46,202.19 L405.08,203.46 L403.71,203.10 L402.69,204.08 L402.61,202.67 L401.36,202.00 L402.68,201.48Z"/><path d="M378.56,206.42 L379.46,207.51 L380.86,207.32 L380.09,208.51 L380.71,209.78 L379.34,209.42 L378.32,210.40 L378.24,208.99 L376.99,208.32 L378.31,207.81Z"/><path d="M400.41,207.32 L401.25,208.46 L402.66,208.34 L401.83,209.49 L402.38,210.80 L401.03,210.37 L399.96,211.29 L399.95,209.88 L398.74,209.15 L400.09,208.70Z"/><path d="M404.52,206.48 L405.36,207.62 L406.77,207.50 L405.95,208.65 L406.50,209.95 L405.15,209.53 L404.08,210.45 L404.07,209.04 L402.86,208.30 L404.20,207.86Z"/><path d="M379.86,211.54 L380.70,212.68 L382.11,212.56 L381.29,213.71 L381.83,215.01 L380.49,214.58 L379.42,215.51 L379.41,214.09 L378.20,213.36 L379.54,212.92Z"/><path d="M403.71,213.26 L404.49,214.44 L405.90,214.39 L405.02,215.50 L405.50,216.83 L404.18,216.33 L403.06,217.20 L403.12,215.79 L401.95,214.99 L403.32,214.62Z"/><path d="M405.21,226.12 L405.86,227.37 L407.27,227.47 L406.28,228.48 L406.62,229.85 L405.36,229.22 L404.16,229.97 L404.36,228.57 L403.28,227.66 L404.68,227.43Z"/><path d="M403.36,232.58 L403.94,233.87 L405.35,234.04 L404.31,235.00 L404.58,236.38 L403.35,235.69 L402.11,236.37 L402.39,234.99 L401.35,234.02 L402.76,233.86Z"/><path d="M407.56,232.60 L408.14,233.88 L409.55,234.06 L408.51,235.01 L408.78,236.40 L407.55,235.71 L406.31,236.39 L406.59,235.00 L405.55,234.04 L406.96,233.88Z"/><path d="M382.38,232.50 L382.97,233.79 L384.37,233.96 L383.33,234.91 L383.60,236.30 L382.37,235.61 L381.13,236.29 L381.41,234.91 L380.38,233.94 L381.78,233.78Z"/><path d="M359.33,232.41 L359.92,233.70 L361.32,233.87 L360.28,234.82 L360.55,236.21 L359.32,235.52 L358.08,236.20 L358.36,234.82 L357.33,233.85 L358.74,233.69Z"/><path d="M400.04,270.72 L400.21,272.12 L401.50,272.71 L400.21,273.31 L400.05,274.71 L399.09,273.68 L397.70,273.96 L398.39,272.72 L397.70,271.49 L399.08,271.76Z"/><path d="M378.08,263.64 L378.25,265.05 L379.53,265.64 L378.25,266.23 L378.09,267.64 L377.13,266.60 L375.74,266.88 L376.43,265.64 L375.73,264.41 L377.12,264.68Z"/><path d="M356.14,256.57 L356.31,257.98 L357.60,258.57 L356.31,259.16 L356.15,260.57 L355.19,259.53 L353.80,259.81 L354.49,258.58 L353.79,257.34 L355.18,257.62Z"/><path d="M398.00,276.87 L398.10,278.28 L399.35,278.93 L398.04,279.46 L397.80,280.85 L396.90,279.77 L395.50,279.98 L396.25,278.78 L395.62,277.51 L396.99,277.86Z"/><path d="M395.64,282.90 L395.67,284.31 L396.89,285.03 L395.55,285.49 L395.24,286.87 L394.39,285.74 L392.98,285.88 L393.80,284.72 L393.23,283.42 L394.58,283.83Z"/><path d="M392.98,288.80 L392.93,290.21 L394.11,290.99 L392.75,291.38 L392.38,292.75 L391.58,291.58 L390.17,291.64 L391.04,290.52 L390.54,289.20 L391.87,289.68Z"/><path d="M390.02,294.56 L389.90,295.97 L391.03,296.81 L389.66,297.13 L389.21,298.47 L388.48,297.26 L387.06,297.25 L387.99,296.18 L387.56,294.83 L388.87,295.38Z"/><path d="M386.76,300.15 L386.57,301.56 L387.66,302.45 L386.27,302.70 L385.75,304.02 L385.08,302.77 L383.67,302.69 L384.65,301.67 L384.30,300.30 L385.57,300.92Z"/><path d="M383.22,305.58 L382.95,306.97 L384.00,307.92 L382.60,308.10 L382.01,309.38 L381.41,308.10 L380.00,307.95 L381.04,306.98 L380.75,305.59 L381.99,306.28Z"/><path d="M379.40,310.81 L379.07,312.18 L380.06,313.19 L378.65,313.29 L378.00,314.55 L377.47,313.24 L376.07,313.01 L377.15,312.10 L376.94,310.70 L378.14,311.44Z"/><path d="M375.32,315.84 L374.92,317.19 L375.86,318.25 L374.44,318.28 L373.73,319.50 L373.26,318.17 L371.88,317.87 L373.01,317.01 L372.87,315.60 L374.03,316.41Z"/><path d="M369.49,319.18 L369.01,320.51 L369.90,321.61 L368.49,321.57 L367.71,322.75 L367.31,321.40 L365.95,321.03 L367.12,320.23 L367.05,318.82 L368.17,319.68Z"/><path d="M372.49,322.12 L372.01,323.45 L372.90,324.55 L371.48,324.51 L370.71,325.70 L370.31,324.34 L368.95,323.97 L370.12,323.17 L370.05,321.76 L371.17,322.62Z"/><path d="M354.52,304.49 L354.04,305.82 L354.93,306.93 L353.51,306.88 L352.74,308.07 L352.34,306.71 L350.97,306.34 L352.14,305.54 L352.07,304.13 L353.19,304.99Z"/><path d="M338.06,288.35 L337.58,289.68 L338.47,290.79 L337.06,290.74 L336.28,291.93 L335.88,290.57 L334.52,290.20 L335.69,289.40 L335.62,287.99 L336.74,288.85Z"/><path d="M366.41,325.23 L365.87,326.54 L366.70,327.68 L365.29,327.57 L364.45,328.71 L364.13,327.33 L362.78,326.89 L363.99,326.16 L363.99,324.74 L365.07,325.66Z"/><path d="M361.61,329.57 L361.00,330.85 L361.76,332.03 L360.36,331.85 L359.47,332.95 L359.21,331.55 L357.89,331.04 L359.14,330.37 L359.22,328.96 L360.24,329.93Z"/><path d="M350.19,335.73 L349.45,336.94 L350.09,338.20 L348.72,337.87 L347.72,338.87 L347.60,337.46 L346.34,336.82 L347.65,336.28 L347.87,334.88 L348.79,335.95Z"/><path d="M352.52,339.23 L351.78,340.43 L352.42,341.69 L351.05,341.36 L350.05,342.36 L349.94,340.95 L348.68,340.31 L349.98,339.77 L350.21,338.37 L351.13,339.45Z"/><path d="M338.54,318.29 L337.80,319.50 L338.44,320.76 L337.07,320.43 L336.07,321.43 L335.96,320.02 L334.70,319.37 L336.00,318.83 L336.22,317.44 L337.14,318.51Z"/><path d="M325.74,299.12 L325.00,300.33 L325.64,301.59 L324.26,301.26 L323.26,302.26 L323.15,300.85 L321.89,300.21 L323.20,299.67 L323.42,298.27 L324.34,299.34Z"/><path d="M345.94,341.03 L345.14,342.19 L345.71,343.49 L344.36,343.09 L343.31,344.03 L343.27,342.62 L342.04,341.91 L343.38,341.44 L343.67,340.05 L344.53,341.18Z"/><path d="M339.36,342.43 L338.51,343.56 L339.01,344.88 L337.68,344.41 L336.58,345.30 L336.62,343.89 L335.43,343.12 L336.78,342.71 L337.15,341.35 L337.95,342.51Z"/><path d="M341.33,346.15 L340.47,347.27 L340.97,348.59 L339.64,348.12 L338.54,349.01 L338.58,347.60 L337.39,346.83 L338.75,346.43 L339.11,345.06 L339.91,346.22Z"/><path d="M329.57,323.89 L328.71,325.01 L329.22,326.33 L327.89,325.86 L326.79,326.75 L326.82,325.34 L325.64,324.57 L326.99,324.16 L327.36,322.80 L328.16,323.96Z"/><path d="M318.81,303.50 L317.95,304.63 L318.46,305.95 L317.13,305.48 L316.03,306.37 L316.06,304.95 L314.88,304.18 L316.23,303.78 L316.60,302.41 L317.40,303.58Z"/><path d="M328.69,349.93 L327.72,350.96 L328.09,352.33 L326.81,351.72 L325.63,352.50 L325.81,351.09 L324.71,350.21 L326.10,349.94 L326.60,348.62 L327.28,349.86Z"/><path d="M316.52,354.35 L315.45,355.27 L315.68,356.67 L314.47,355.93 L313.21,356.58 L313.53,355.20 L312.53,354.21 L313.94,354.09 L314.57,352.83 L315.12,354.13Z"/><path d="M310.28,356.08 L309.16,356.94 L309.32,358.35 L308.15,357.55 L306.86,358.14 L307.25,356.78 L306.30,355.73 L307.71,355.69 L308.41,354.46 L308.89,355.79Z"/><path d="M297.57,358.56 L296.37,359.31 L296.38,360.72 L295.30,359.81 L293.96,360.26 L294.49,358.95 L293.65,357.81 L295.06,357.91 L295.88,356.76 L296.22,358.13Z"/><path d="M274.01,359.68 L275.31,359.13 L275.52,357.73 L276.44,358.80 L277.84,358.56 L277.11,359.77 L277.77,361.03 L276.39,360.71 L275.40,361.72 L275.27,360.31Z"/><path d="M267.55,359.21 L268.87,358.73 L269.15,357.34 L270.03,358.45 L271.43,358.29 L270.64,359.47 L271.23,360.75 L269.87,360.37 L268.83,361.32 L268.78,359.91Z"/><path d="M248.43,355.83 L249.82,355.55 L250.31,354.22 L251.00,355.46 L252.42,355.51 L251.46,356.55 L251.84,357.91 L250.55,357.32 L249.38,358.11 L249.54,356.70Z"/><path d="M242.21,354.05 L243.61,353.84 L244.17,352.54 L244.79,353.81 L246.20,353.94 L245.19,354.93 L245.50,356.31 L244.25,355.65 L243.03,356.37 L243.27,354.98Z"/><path d="M230.07,349.53 L231.49,349.48 L232.17,348.24 L232.67,349.57 L234.05,349.84 L232.95,350.72 L233.11,352.12 L231.94,351.34 L230.65,351.93 L231.03,350.57Z"/><path d="M212.90,340.49 L214.30,340.65 L215.18,339.53 L215.46,340.92 L216.79,341.40 L215.56,342.10 L215.51,343.51 L214.46,342.56 L213.10,342.95 L213.69,341.66Z"/><path d="M207.51,336.90 L208.91,337.13 L209.83,336.06 L210.04,337.46 L211.35,338.01 L210.08,338.64 L209.96,340.05 L208.97,339.05 L207.59,339.36 L208.24,338.11Z"/><path d="M169.69,290.07 L170.81,290.93 L172.13,290.42 L171.66,291.75 L172.56,292.85 L171.14,292.82 L170.37,294.00 L169.97,292.65 L168.60,292.28 L169.77,291.48Z"/><path d="M165.98,292.03 L167.10,292.89 L168.42,292.38 L167.95,293.71 L168.84,294.81 L167.43,294.78 L166.66,295.97 L166.26,294.61 L164.89,294.25 L166.05,293.44Z"/><path d="M188.23,280.26 L189.36,281.12 L190.68,280.61 L190.21,281.95 L191.10,283.05 L189.68,283.01 L188.92,284.20 L188.51,282.84 L187.14,282.48 L188.31,281.68Z"/><path d="M165.05,285.20 L166.13,286.12 L167.47,285.68 L166.94,286.98 L167.77,288.13 L166.36,288.02 L165.53,289.17 L165.20,287.79 L163.85,287.36 L165.06,286.62Z"/><path d="M164.52,278.43 L165.55,279.40 L166.92,279.03 L166.31,280.31 L167.09,281.49 L165.69,281.31 L164.80,282.42 L164.54,281.03 L163.21,280.52 L164.45,279.85Z"/><path d="M160.63,280.00 L161.66,280.97 L163.02,280.60 L162.42,281.88 L163.19,283.06 L161.79,282.89 L160.90,283.99 L160.64,282.60 L159.32,282.10 L160.56,281.42Z"/><path d="M183.98,270.59 L185.01,271.56 L186.37,271.19 L185.77,272.47 L186.54,273.65 L185.14,273.47 L184.25,274.57 L183.99,273.18 L182.67,272.68 L183.91,272.00Z"/><path d="M205.36,261.97 L206.38,262.94 L207.75,262.57 L207.15,263.85 L207.92,265.03 L206.52,264.85 L205.63,265.96 L205.37,264.57 L204.05,264.06 L205.29,263.38Z"/><path d="M160.41,273.11 L161.39,274.14 L162.77,273.84 L162.10,275.08 L162.82,276.30 L161.42,276.05 L160.48,277.11 L160.29,275.71 L159.00,275.14 L160.27,274.52Z"/><path d="M160.58,266.33 L161.51,267.40 L162.90,267.17 L162.17,268.38 L162.82,269.64 L161.44,269.31 L160.45,270.32 L160.33,268.91 L159.07,268.27 L160.37,267.72Z"/><path d="M156.55,267.49 L157.47,268.56 L158.87,268.33 L158.14,269.54 L158.78,270.80 L157.41,270.47 L156.41,271.48 L156.29,270.07 L155.03,269.43 L156.33,268.89Z"/><path d="M180.74,260.53 L181.67,261.60 L183.06,261.37 L182.33,262.58 L182.98,263.84 L181.60,263.51 L180.60,264.52 L180.49,263.11 L179.22,262.47 L180.53,261.93Z"/><path d="M157.04,260.61 L157.91,261.73 L159.31,261.57 L158.52,262.75 L159.10,264.03 L157.75,263.64 L156.70,264.59 L156.65,263.18 L155.42,262.48 L156.75,262.00Z"/><path d="M179.52,255.39 L180.38,256.50 L181.79,256.35 L181.00,257.52 L181.58,258.81 L180.22,258.41 L179.17,259.36 L179.13,257.95 L177.90,257.25 L179.23,256.77Z"/><path d="M201.97,250.16 L202.83,251.28 L204.24,251.12 L203.45,252.29 L204.03,253.58 L202.67,253.19 L201.62,254.14 L201.58,252.73 L200.35,252.03 L201.68,251.55Z"/></g>
<g font-size="6.0">
<text x="241.93" y="102.64" transform="rotate(-106.03 241.93 102.24)" dominant-baseline="central">2.aminobutyrate</text><text x="248.78" y="100.86" transform="rotate(-103.08 248.78 100.46)" dominant-baseline="central">3.hydroxyisobutyrate</text><text x="255.71" y="99.44" transform="rotate(-100.12 255.71 99.04)" dominant-baseline="central">3.methylglutaconate</text><text x="262.71" y="98.37" transform="rotate(-97.17 262.71 97.97)" dominant-baseline="central">5.methylthioadenosine.MTA.</text><text x="269.75" y="97.67" transform="rotate(-94.22 269.75 97.27)" dominant-baseline="central">citrulline</text><text x="276.82" y="97.33" transform="rotate(-91.26 276.82 96.93)" dominant-baseline="central">cysteine.glutathionedisulfide</text><text x="283.90" y="97.36" transform="rotate(-88.31 283.90 96.96)" dominant-baseline="central">glutamate</text><text x="290.97" y="97.75" transform="rotate(-85.36 290.97 97.35)" dominant-baseline="central">indolepropionate</text><text x="298.01" y="98.51" transform="rotate(-82.40 298.01 98.11)" dominant-baseline="central">isobutyrylcarnitine.C4.</text><text x="305.00" y="99.62" transform="rotate(-79.45 305.00 99.22)" dominant-baseline="central">kynurenate</text><text x="311.92" y="101.10" transform="rotate(-76.49 311.92 100.70)" dominant-baseline="central">kynurenine</text><text x="318.76" y="102.93" transform="rotate(-73.54 318.76 102.53)" dominant-baseline="central">leucine</text><text x="325.49" y="105.11" transform="rotate(-70.59 325.49 104.71)" dominant-baseline="central">N.acetylputrescine</text><text x="332.10" y="107.63" transform="rotate(-67.63 332.10 107.23)" dominant-baseline="central">N6.N6.N6.trimethyllysine</text><text x="338.58" y="110.49" transform="rotate(-64.68 338.58 110.09)" dominant-baseline="central">phenolsulfate</text><text x="344.89" y="113.68" transform="rotate(-61.72 344.89 113.28)" dominant-baseline="central">serotonin</text><text x="351.04" y="117.20" transform="rotate(-58.77 351.04 116.80)" dominant-baseline="central">valine</text><text x="356.99" y="121.02" transform="rotate(-55.82 356.99 120.62)" dominant-baseline="central">vanillylmandelate.VMA.</text><text x="370.87" y="131.81" transform="rotate(-48.47 370.87 131.41)" dominant-baseline="central">arabitol.xylitol</text><text x="376.05" y="136.64" transform="rotate(-45.52 376.05 136.24)" dominant-baseline="central">erythronate</text><text x="380.97" y="141.72" transform="rotate(-42.57 380.97 141.32)" dominant-baseline="central">fructose</text><text x="385.62" y="147.06" transform="rotate(-39.61 385.62 146.66)" dominant-baseline="central">glucose</text><text x="389.99" y="152.63" transform="rotate(-36.66 389.99 152.23)" dominant-baseline="central">glucuronate</text><text x="394.07" y="158.41" transform="rotate(-33.70 394.07 158.01)" dominant-baseline="central">mannitol.sorbitol</text><text x="397.85" y="164.40" transform="rotate(-30.75 397.85 164.00)" dominant-baseline="central">N.acetylneuraminate</text><text x="401.31" y="170.57" transform="rotate(-27.80 401.31 170.17)" dominant-baseline="central">pyruvate</text><text x="404.45" y="176.92" transform="rotate(-24.84 404.45 176.52)" dominant-baseline="central">sucrose</text><text x="410.79" y="193.31" transform="rotate(-17.50 410.79 192.91)" dominant-baseline="central">bilirubin.E.E.</text><text x="412.75" y="200.11" transform="rotate(-14.55 412.75 199.71)" dominant-baseline="central">bilirubin.E.ZorZ.E.</text><text x="414.35" y="207.01" transform="rotate(-11.59 414.35 206.61)" dominant-baseline="central">bilirubin.Z.Z.</text><text x="415.59" y="213.98" transform="rotate(-8.64 415.59 213.58)" dominant-baseline="central">biliverdin</text><text x="416.47" y="221.00" transform="rotate(-5.68 416.47 220.60)" dominant-baseline="central">pantothenate</text><text x="416.99" y="228.06" transform="rotate(-2.73 416.99 227.66)" dominant-baseline="central">pyridoxate</text><text x="417.15" y="235.13" transform="rotate(0.22 417.15 234.73)" dominant-baseline="central">retinol.VitaminA.</text><text x="415.96" y="252.67" transform="rotate(7.56 415.96 252.27)" dominant-baseline="central">alpha.ketoglutarate</text><text x="412.53" y="269.92" transform="rotate(14.91 412.53 269.52)" dominant-baseline="central">1..1.enyl.oleoyl..GPE.P.18.1.</text><text x="410.53" y="276.71" transform="rotate(17.86 410.53 276.31)" dominant-baseline="central">1.linoleoyl.GPA.18.2.</text><text x="408.19" y="283.39" transform="rotate(20.81 408.19 282.99)" dominant-baseline="central">1.palmitoleoyl.GPC.16.1.</text><text x="405.51" y="289.93" transform="rotate(23.77 405.51 289.53)" dominant-baseline="central">1.palmitoyl.2.arachidonoyl.GPC.16.0.20.4n6.</text><text x="402.49" y="296.34" transform="rotate(26.72 402.49 295.94)" dominant-baseline="central">1.palmitoyl.2.arachidonoyl.GPE.16.0.20.4.</text><text x="399.14" y="302.57" transform="rotate(29.68 399.14 302.17)" dominant-baseline="central">1.palmitoyl.2.docosahexaenoyl.GPE.16.0.22.6.</text><text x="395.48" y="308.63" transform="rotate(32.63 395.48 308.23)" dominant-baseline="central">1.palmitoyl.2.linoleoyl.GPE.16.0.18.2.</text><text x="391.51" y="314.49" transform="rotate(35.58 391.51 314.09)" dominant-baseline="central">1.palmitoyl.2.oleoyl.GPC.16.0.18.1.</text><text x="387.25" y="320.14" transform="rotate(38.54 387.25 319.74)" dominant-baseline="central">1.palmitoyl.2.oleoyl.GPE.16.0.18.1.</text><text x="382.70" y="325.56" transform="rotate(41.49 382.70 325.16)" dominant-baseline="central">1.palmitoyl.2.oleoyl.GPI.16.0.18.1.</text><text x="377.87" y="330.74" transform="rotate(44.44 377.87 330.34)" dominant-baseline="central">1.palmitoyl.2.palmitoleoyl.GPC.16.0.16.1.</text><text x="372.79" y="335.66" transform="rotate(47.40 372.79 335.26)" dominant-baseline="central">1.palmitoyl.GPE.16.0.</text><text x="367.46" y="340.32" transform="rotate(50.35 367.46 339.92)" dominant-baseline="central">1.stearoyl.2.arachidonoyl.GPE.18.0.20.4.</text><text x="361.89" y="344.69" transform="rotate(53.31 361.89 344.29)" dominant-baseline="central">1.stearoyl.2.docosahexaenoyl.GPE.18.0.22.6.</text><text x="356.11" y="348.78" transform="rotate(56.26 356.11 348.38)" dominant-baseline="central">10.undecenoate.11.1n1.</text><text x="350.12" y="352.55" transform="rotate(59.22 350.12 352.15)" dominant-baseline="central">13.methylmyristate</text><text x="343.95" y="356.02" transform="rotate(62.17 343.95 355.62)" dominant-baseline="central">2.aminooctanoate</text><text x="337.61" y="359.16" transform="rotate(65.12 337.61 358.76)" dominant-baseline="central">3.carboxy.4.methyl.5.propyl.2.furanpropanoate.CMPF.</text><text x="331.11" y="361.97" transform="rotate(68.08 331.11 361.57)" dominant-baseline="central">3.hydroxydecanoate</text><text x="324.48" y="364.44" transform="rotate(71.03 324.48 364.04)" dominant-baseline="central">3.hydroxyhexanoate</text><text x="317.73" y="366.57" transform="rotate(73.99 317.73 366.17)" dominant-baseline="central">3.hydroxylaurate</text><text x="310.88" y="368.35" transform="rotate(76.94 310.88 367.95)" dominant-baseline="central">3.hydroxyoctanoate</text><text x="303.94" y="369.77" transform="rotate(79.89 303.94 369.37)" dominant-baseline="central">3.hydroxysebacate</text><text x="296.95" y="370.83" transform="rotate(82.85 296.95 370.43)" dominant-baseline="central">5alpha.androstan.3beta.17alpha.diol.disulfate</text><text x="289.90" y="371.53" transform="rotate(85.80 289.90 371.13)" dominant-baseline="central">7.alpha.hydroxy.3.oxo.4.cholestenoate.7.Hoca.</text><text x="282.83" y="371.47" transform="rotate(-91.24 282.83 371.47)" text-anchor="end" dominant-baseline="central">androsteronesulfate</text><text x="275.76" y="371.44" transform="rotate(-88.29 275.76 371.44)" text-anchor="end" dominant-baseline="central">cis.4.decenoylcarnitine.C10.1.</text><text x="268.69" y="371.05" transform="rotate(-85.34 268.69 371.05)" text-anchor="end" dominant-baseline="central">decanoylcarnitine.C10.</text><text x="261.65" y="370.29" transform="rotate(-82.38 261.65 370.29)" text-anchor="end" dominant-baseline="central">deoxycarnitine</text><text x="254.66" y="369.17" transform="rotate(-79.43 254.66 369.17)" text-anchor="end" dominant-baseline="central">diacylglycerol.14.0.18.1.16.0.16.1.[2]</text><text x="247.74" y="367.69" transform="rotate(-76.47 247.74 367.69)" text-anchor="end" dominant-baseline="central">epiandrosteronesulfate</text><text x="240.90" y="365.86" transform="rotate(-73.52 240.90 365.86)" text-anchor="end" dominant-baseline="central">glycolithocholatesulfate</text><text x="234.17" y="363.68" transform="rotate(-70.57 234.17 363.68)" text-anchor="end" dominant-baseline="central">hexanoylcarnitine.C6.</text><text x="227.56" y="361.15" transform="rotate(-67.61 227.56 361.15)" text-anchor="end" dominant-baseline="central">laurylcarnitine.C12.</text><text x="221.08" y="358.29" transform="rotate(-64.66 221.08 358.29)" text-anchor="end" dominant-baseline="central">lignoceroylcarnitine.C24.</text><text x="214.77" y="355.10" transform="rotate(-61.70 214.77 355.10)" text-anchor="end" dominant-baseline="central">myristoleoylcarnitine.C14.1.</text><text x="208.62" y="351.58" transform="rotate(-58.75 208.62 351.58)" text-anchor="end" dominant-baseline="central">octanoylcarnitine.C8.</text><text x="202.67" y="347.75" transform="rotate(-55.80 202.67 347.75)" text-anchor="end" dominant-baseline="central">taurolithocholate.3.sulfate</text><text x="188.79" y="336.96" transform="rotate(-48.46 188.79 336.96)" text-anchor="end" dominant-baseline="central">N1.methyladenosine</text><text x="176.41" y="324.48" transform="rotate(-41.11 176.41 324.48)" text-anchor="end" dominant-baseline="central">gamma.glutamyl.2.aminobutyrate</text><text x="171.89" y="319.03" transform="rotate(-38.16 171.89 319.03)" text-anchor="end" dominant-baseline="central">gamma.glutamylglutamine</text><text x="167.67" y="313.36" transform="rotate(-35.21 167.67 313.36)" text-anchor="end" dominant-baseline="central">leucylalanine</text><text x="158.47" y="298.37" transform="rotate(-27.87 158.47 298.37)" text-anchor="end" dominant-baseline="central">3.phenylpropionate.hydrocinnamate.</text><text x="155.32" y="292.03" transform="rotate(-24.91 155.32 292.03)" text-anchor="end" dominant-baseline="central">4.allylphenolsulfate</text><text x="152.51" y="285.54" transform="rotate(-21.96 152.51 285.54)" text-anchor="end" dominant-baseline="central">4.hydroxycoumarin</text><text x="150.03" y="278.91" transform="rotate(-19.00 150.03 278.91)" text-anchor="end" dominant-baseline="central">beta.cryptoxanthin</text><text x="147.90" y="272.16" transform="rotate(-16.05 147.90 272.16)" text-anchor="end" dominant-baseline="central">cinnamoylglycine</text><text x="146.12" y="265.31" transform="rotate(-13.10 146.12 265.31)" text-anchor="end" dominant-baseline="central">hippurate</text><text x="144.70" y="258.38" transform="rotate(-10.14 144.70 258.38)" text-anchor="end" dominant-baseline="central">homostachydrine</text><text x="143.63" y="251.38" transform="rotate(-7.19 143.63 251.38)" text-anchor="end" dominant-baseline="central">phytanate</text>
</g>
<g font-size="9">
<text x="273.04" y="108.81" text-anchor="end" dominant-baseline="central" transform="rotate(-17.51 279.85 234.2)">model 1</text><text x="273.33" y="132.29" text-anchor="end" dominant-baseline="central" transform="rotate(-17.51 279.85 234.2)">model 2</text><text x="274.29" y="154.97" text-anchor="end" dominant-baseline="central" transform="rotate(-17.51 279.85 234.2)">model 3</text>
<text x="301.3" y="8">Amino acids</text>
<text x="464.1" y="106.1">Carbohydrates</text>
<text x="495.9" y="204.9">Cofactors&amp;Vitamins</text>
<text x="511.8" y="270.8">Energy</text>
<text x="378.2" y="511.6">Lipids</text>
<text x="90.5" y="424.4">Nucleotides</text>
<text x="61.8" y="397.7">Peptides</text>
<text x="-0.3" y="315.8">Xenobiotics</text>
<text x="642.1" y="376.8">Zscore &lt; 0</text>
<text x="642.1" y="402.7">Zscore &gt; 0</text>
</g>
<rect x="610" y="361.6" width="23.8" height="23.8" fill="#FFA500"/>
<rect x="610" y="389" width="23.8" height="23.6" fill="#BEBEBE"/>
</svg>
</body></html>
